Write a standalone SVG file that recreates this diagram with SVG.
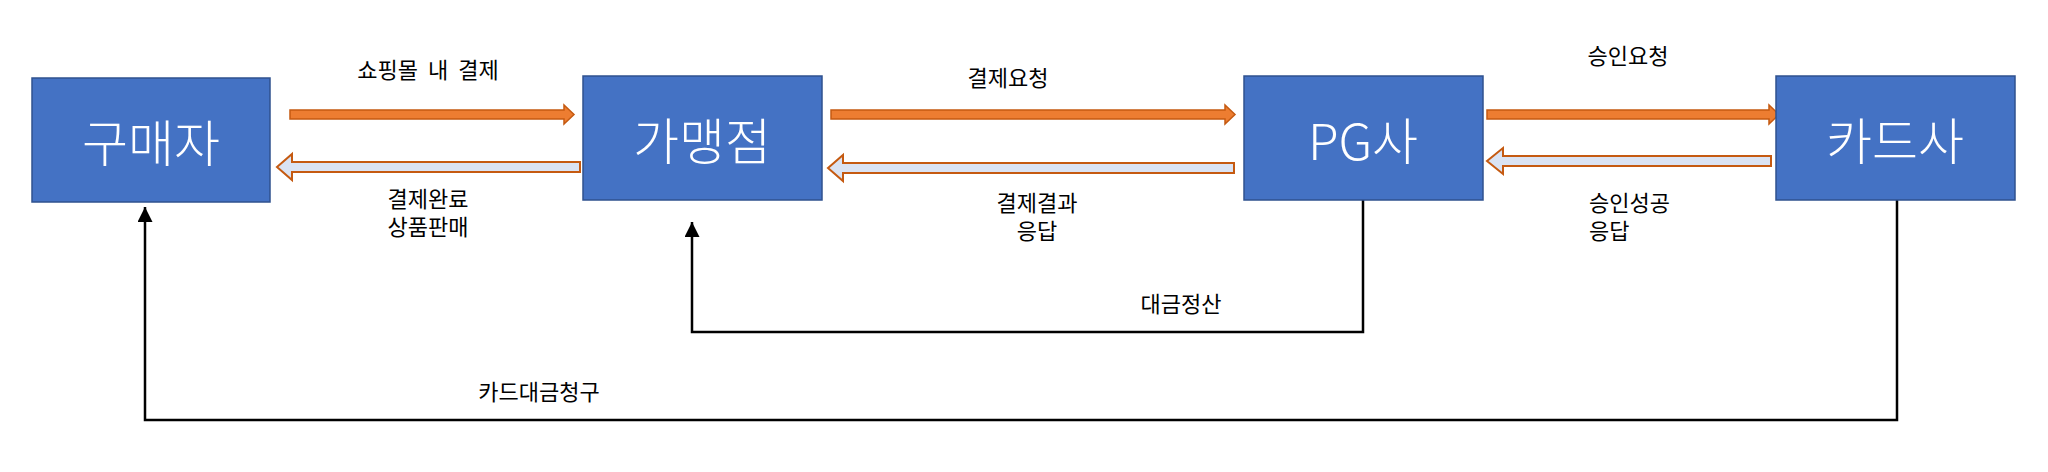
<svg xmlns="http://www.w3.org/2000/svg" width="2048" height="472" viewBox="0 0 2048 472">
  <defs>
    <style>
      .box { fill: #4472C4; stroke: #2F528F; stroke-width: 1.5; }
      .boxtxt { font-family: "Noto Sans CJK KR", "Noto Sans", sans-serif; font-size: 50px; font-weight: 300; fill: #FFFFFF; text-anchor: middle; dominant-baseline: central; }
      .lbl { font-family: "Noto Sans CJK KR", "Noto Sans", sans-serif; font-size: 22px; fill: #000000; dominant-baseline: central; }
      .mid { text-anchor: middle; }
      .fwd { fill: #ED7D31; stroke: #C55A11; stroke-width: 1.5; stroke-linejoin: miter; }
      .back { fill: #DAE3F3; stroke: #C55A11; stroke-width: 2; stroke-linejoin: miter; }
      .line { fill: none; stroke: #000000; stroke-width: 2.5; }
    </style>
    <marker id="ah" viewBox="0 0 10 10" refX="10" refY="5" markerWidth="6" markerHeight="6" markerUnits="strokeWidth" orient="auto">
      <path d="M0,0 L10,5 L0,10 Z" fill="#000000"/>
    </marker>
  </defs>
  <rect width="2048" height="472" fill="#FFFFFF"/>

  <g id="connectors">
    <polygon class="fwd" points="290,110 564,110 564,105 574,114.5 564,124 564,119 290,119"/>
    <polygon class="back" points="277,167 292,154 292,162 580,162 580,172 292,172 292,180"/>
    <polygon class="fwd" points="831,110 1225,110 1225,105 1235,114.5 1225,124 1225,119 831,119"/>
    <polygon class="back" points="828,168 843,155 843,163 1234,163 1234,173 843,173 843,181"/>
    <polygon class="fwd" points="1487,110 1769,110 1769,105 1779,114.5 1769,124 1769,119 1487,119"/>
    <polygon class="back" points="1487,161 1503,148 1503,156 1771,156 1771,166 1503,166 1503,174"/>
    <path class="line" d="M1363,200 V332 H692 V222" marker-end="url(#ah)"/>
    <path class="line" d="M1897,200 V420 H145 V207" marker-end="url(#ah)"/>
  </g>

  <g id="labels">
    <text class="lbl mid" x="428" y="68" word-spacing="5">쇼핑몰 내 결제</text>
    <text class="lbl mid" x="428" y="197">결제완료</text>
    <text class="lbl mid" x="428" y="225">상품판매</text>
    <text class="lbl mid" x="1008" y="76">결제요청</text>
    <text class="lbl mid" x="1037" y="201">결제결과</text>
    <text class="lbl mid" x="1037" y="229">응답</text>
    <text class="lbl mid" x="1628" y="54">승인요청</text>
    <text class="lbl" x="1589" y="201">승인성공</text>
    <text class="lbl" x="1589" y="229">응답</text>
    <text class="lbl mid" x="1181" y="302">대금정산</text>
    <text class="lbl mid" x="539" y="390">카드대금청구</text>
  </g>

  <g id="node-buyer">
    <rect class="box" x="32" y="78" width="238" height="124"/>
    <text class="boxtxt" x="151" y="140">구매자</text>
  </g>
  <g id="node-merchant">
    <rect class="box" x="583" y="76" width="239" height="124"/>
    <text class="boxtxt" x="702" y="138">가맹점</text>
  </g>
  <g id="node-pg">
    <rect class="box" x="1244" y="76" width="239" height="124"/>
    <text class="boxtxt" x="1363" y="138">PG사</text>
  </g>
  <g id="node-card">
    <rect class="box" x="1776" y="76" width="239" height="124"/>
    <text class="boxtxt" x="1895" y="138">카드사</text>
  </g>
</svg>
